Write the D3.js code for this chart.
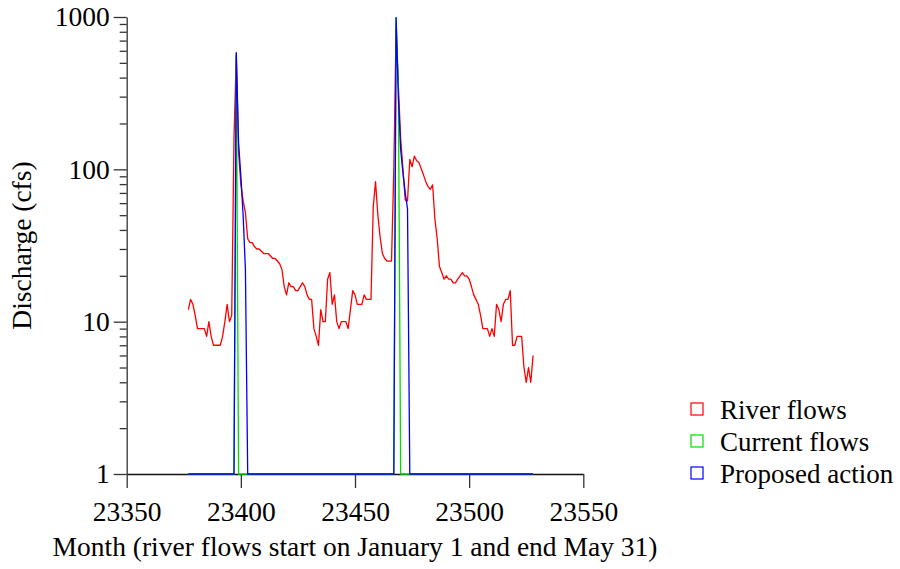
<!DOCTYPE html>
<html>
<head>
<meta charset="utf-8">
<script src="https://cdn.jsdelivr.net/npm/d3@7"></script>
<style>
  html, body { margin: 0; padding: 0; background: #fff; }
  svg { display: block; }
  text { font-family: "Liberation Serif", "Times New Roman", serif; fill: #000; }
</style>
</head>
<body>
<svg id="chart" width="900" height="569"></svg>
<script>
// ---- data ----
const riverStartDay = 23377; // first daily value (January 1)
const riverFlows = [
  12,14,13,11,9,9,9,9,8,10,
  8,7,7,7,7,8,10,13,10,11,
  160,560,130,80,62,52,35,33,33,31,
  30,30,29,28,28,28,27,26,26,25,
  24,22,17,15,18,17,17,16,16,17,
  18,17,15,14,14,9,8,7,12,10,
  10,19,21,13,15,10,9,10,10,10,
  9,12,16,15,13,13,13,15,14,14,
  14,57,83,50,36,28,26,25,25,25,
  100,850,350,160,100,63,62,116,104,122,
  114,111,101,92,83,77,74,79,47,35,
  23,21,19,20,19,19,18,18,19,20,
  21,20,20,19,17,15,14,13,11,9,
  9,9,8,9,8,13,12,10,13,14,
  14,16,7,7,8,8,8,5,4,5,
  4,6
];
const currentDays   = [23377, 23397, 23398, 23399, 23467, 23468, 23469, 23470, 23528];
const currentFlows  = [1, 1, 580, 1, 1, 990, 350, 1, 1];
const proposedDays  = [23377, 23397, 23398, 23399, 23400, 23401, 23402, 23403,
                       23467, 23468, 23469, 23470, 23471, 23472, 23473, 23474, 23528];
const proposedFlows = [1, 1, 584, 150, 90, 50, 22, 1,
                       1, 990, 300, 135, 95, 70, 55, 1, 1];
const xTicks = [23350, 23400, 23450, 23500, 23550];
const yTicks = [1, 10, 100, 1000];
const yMinorTicks = [2,3,4,5,6,7,8,9,20,30,40,50,60,70,80,90,200,300,400,500,600,700,800,900];
const seriesNames = ["River flows", "Current flows", "Proposed action"];
const seriesColors = ["#ff0000", "#00dd00", "#0000ff"];
const xTitle = "Month (river flows start on January 1 and end May 31)";
const yTitle = "Discharge (cfs)";

// ---- layout ----
const fontSize = 27.5;
const svg = d3.select("#chart");
const x = d3.scaleLinear().domain([23350, 23550]).range([126.7, 583.3]);
const y = d3.scaleLog().domain([1, 1000]).range([474, 17]);

const river = riverFlows.map((v, i) => [riverStartDay + i, v]);
const current = currentDays.map((d, i) => [d, currentFlows[i]]);
const proposed = proposedDays.map((d, i) => [d, proposedFlows[i]]);

const line = d3.line().x(d => x(d[0])).y(d => y(d[1]));

// axes
const axisColor = "#333";
const xAxis = svg.append("g").attr("transform", "translate(0,474)")
  .call(d3.axisBottom(x).tickValues(xTicks).tickFormat(d3.format("d"))
        .tickSize(14).tickSizeOuter(0).tickPadding(13));
const yAxis = svg.append("g").attr("transform", "translate(126.7,0)")
  .call(d3.axisLeft(y).tickValues(yTicks).tickFormat(d3.format("d"))
        .tickSize(13).tickSizeOuter(0).tickPadding(4));
const yMinor = svg.append("g").attr("transform", "translate(126.7,0)")
  .call(d3.axisLeft(y).tickValues(yMinorTicks).tickFormat("").tickSize(7).tickSizeOuter(0));
yMinor.select(".domain").remove();

[xAxis, yAxis, yMinor].forEach(g => {
  g.attr("font-family", "Liberation Serif").attr("font-size", fontSize);
  g.selectAll("path,line").attr("stroke", axisColor).attr("stroke-width", 1.3);
  g.selectAll("text").attr("font-family", "Liberation Serif").attr("font-size", fontSize).attr("fill", "#000");
});
xAxis.select(".domain").attr("stroke", "#111");

// data lines
const seriesData = [river, current, proposed];
seriesData.forEach((data, i) => {
  svg.append("path").datum(data)
    .attr("fill", "none")
    .attr("stroke", seriesColors[i])
    .attr("stroke-width", 1.3)
    .attr("stroke-linejoin", "round")
    .attr("d", line);
});

// titles
svg.append("text").attr("x", (x.range()[0] + x.range()[1]) / 2).attr("y", 556)
  .attr("text-anchor", "middle").attr("font-size", fontSize).text(xTitle);
svg.append("text")
  .attr("transform", `translate(31,${(y.range()[0] + y.range()[1]) / 2}) rotate(-90)`)
  .attr("text-anchor", "middle").attr("font-size", fontSize).text(yTitle);

// legend
const legend = svg.append("g").attr("transform", "translate(691,403)");
seriesNames.forEach((name, i) => {
  const g = legend.append("g").attr("transform", `translate(0,${i * 32})`);
  g.append("rect").attr("x", 0).attr("y", 0).attr("width", 12).attr("height", 12)
    .attr("fill", "none").attr("stroke", seriesColors[i]).attr("stroke-width", 1.2);
  g.append("text").attr("x", 29).attr("y", 16).attr("font-size", 27).text(name);
});
</script>
</body>
</html>
